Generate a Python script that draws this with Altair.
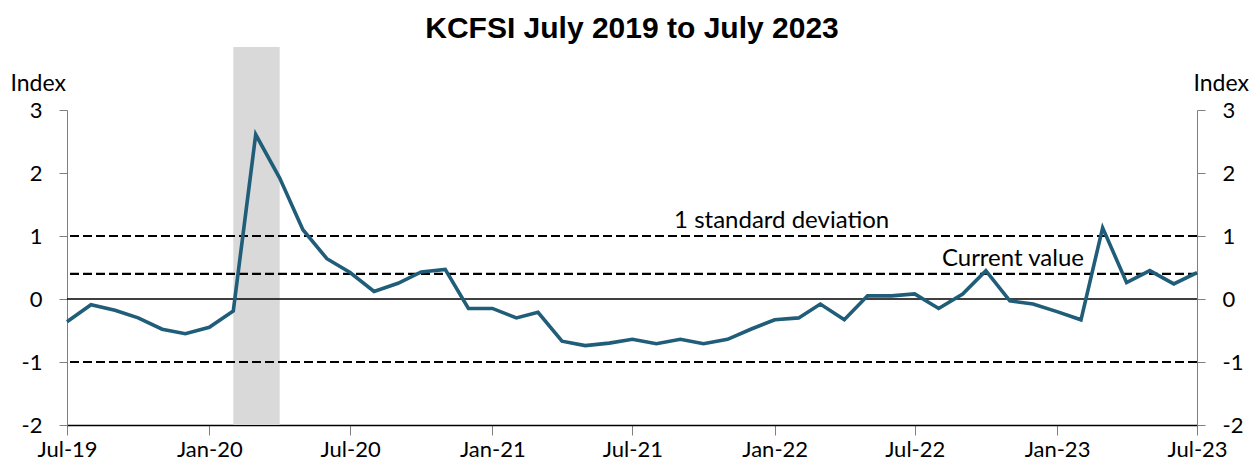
import altair as alt
import pandas as pd

# ---- data ----
months = pd.date_range("2019-07-01", "2023-07-01", freq="MS").strftime("%Y-%m-%d").tolist()
kcfsi = [-0.36, -0.09, -0.18, -0.30, -0.48, -0.55,
         -0.45, -0.19, 2.61, 1.92, 1.10, 0.64, 0.42, 0.12, 0.25, 0.43, 0.47, -0.15,
         -0.15, -0.30, -0.21, -0.67, -0.74, -0.70, -0.64, -0.71, -0.64, -0.71, -0.64, -0.48,
         -0.33, -0.30, -0.08, -0.33, 0.05, 0.05, 0.08, -0.15, 0.08, 0.45, -0.03, -0.08,
         -0.20, -0.33, 1.13, 0.26, 0.45, 0.24, 0.42]
tick_dates = ["2019-07-01", "2020-01-01", "2020-07-01", "2021-01-01", "2021-07-01",
              "2022-01-01", "2022-07-01", "2023-01-01", "2023-07-01"]
y_ticks = [-2, -1, 0, 1, 2, 3]
recession_start = ["2020-02-01"]
recession_end = ["2020-04-01"]
band_low = [-2]
band_high = [4]
ref_values = [1, 0.4, -1]
ref_labels = ["1 standard deviation", "Current value"]
ref_label_values = [1, 0.4]
ref_label_dates = ["2022-01-10", "2022-11-05"]

df = pd.DataFrame({"date": months, "value": kcfsi})
rec = pd.DataFrame({"start": recession_start, "end": recession_end, "lo": band_low, "hi": band_high})
refs = pd.DataFrame({"v": ref_values})
labs = pd.DataFrame({"date": ref_label_dates, "v": ref_label_values, "t": ref_labels})
zero = pd.DataFrame({"v": [0]})

FONT = "Lato"
xscale = alt.Scale(type="utc", domain=[months[0], months[-1]])
yscale = alt.Scale(domain=[-2, 3], nice=False, zero=False)

x_tick_vals = [alt.DateTime(year=int(d[:4]), month=int(d[5:7]), date=1, utc=True) for d in tick_dates]

x_axis = alt.Axis(values=x_tick_vals, labelExpr="utcFormat(datum.value, '%b-%y')", labelFlush=False,
                  tickSize=10, tickColor="#7f7f7f", domainColor="#000000", domainWidth=1.5,
                  labelFont=FONT, labelFontSize=22, labelColor="#000000", labelPadding=4,
                  grid=False, title=None, labelOverlap=False)

left_axis = alt.Axis(orient="left", values=y_ticks, tickSize=8, tickColor="#7f7f7f",
                     domainColor="#7f7f7f", labelPadding=17, labelFont=FONT, labelFontSize=22,
                     labelColor="#000000", labelExpr="toString(datum.value)", grid=False,
                     title="Index", titleAngle=0,
                     titleAlign="left", titleBaseline="alphabetic", titleX=-57, titleY=-20,
                     titleFont=FONT, titleFontSize=23, titleFontWeight="normal",
                     titleColor="#000000")
right_axis = alt.Axis(orient="right", values=y_ticks, tickSize=8, tickColor="#7f7f7f",
                      domainColor="#7f7f7f", labelPadding=17, labelFont=FONT, labelFontSize=22,
                      labelColor="#000000", labelExpr="toString(datum.value)", grid=False,
                      title="Index", titleAngle=0,
                      titleAlign="left", titleBaseline="alphabetic", titleX=-4, titleY=-20,
                      titleFont=FONT, titleFontSize=23, titleFontWeight="normal",
                      titleColor="#000000")

band = alt.Chart(rec).mark_rect(color="#d9d9d9", clip=False).encode(
    x=alt.X("start:T", scale=xscale, axis=x_axis),
    x2="end:T",
    y=alt.Y("lo:Q", scale=yscale, axis=None),
    y2="hi:Q",
)

dashes = alt.Chart(refs).mark_rule(color="#000000", strokeWidth=2.2, strokeDash=[9, 4]).encode(
    y=alt.Y("v:Q", scale=yscale, axis=None)
)

zero_line = alt.Chart(zero).mark_rule(color="#000000", strokeWidth=1.3).encode(
    y=alt.Y("v:Q", scale=yscale, axis=right_axis)
)

line = alt.Chart(df).mark_line(color="#1f5d78", strokeWidth=3.6).encode(
    x=alt.X("date:T", scale=xscale, axis=x_axis),
    y=alt.Y("value:Q", scale=yscale, axis=left_axis),
)

texts = alt.Chart(labs).mark_text(font=FONT, fontSize=24, color="#000000", align="center",
                                  baseline="alphabetic", dy=-8).encode(
    x=alt.X("date:T", scale=xscale, axis=x_axis),
    y=alt.Y("v:Q", scale=yscale, axis=None),
    text="t:N",
)

chart = alt.layer(band, dashes, zero_line, line, texts).resolve_axis(y="independent").properties(
    width=1130, height=315,
    autosize=alt.AutoSizeParams(type="none"),
    padding={"left": 59, "top": 102, "right": 55, "bottom": 37},
    title=alt.TitleParams("KCFSI July 2019 to July 2023", font="Liberation Sans", fontSize=30,
                          fontWeight="bold", color="#000000", anchor="middle", offset=3),
).configure_view(stroke=None)

chart.save("out.html", embed_options={"renderer": "svg", "actions": False})
